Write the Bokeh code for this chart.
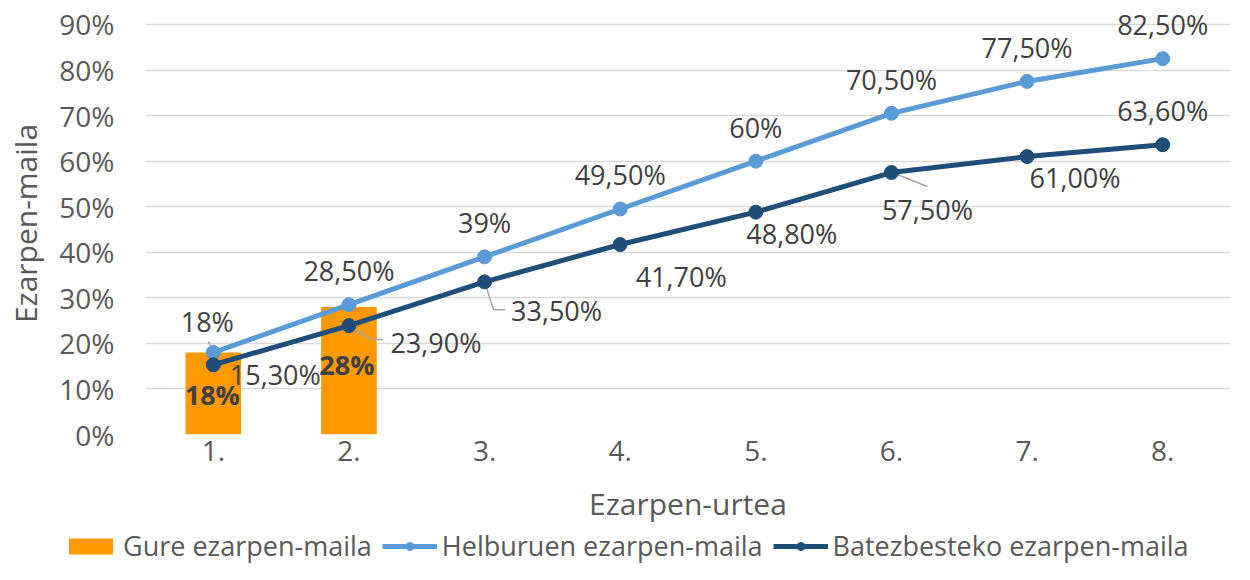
from bokeh.plotting import figure
from bokeh.models import (Range1d, FixedTicker, NumeralTickFormatter, ColumnDataSource,
                          LabelSet, Legend, LegendItem)
from bokeh.core.properties import value
from bokeh.embed import file_html
from bokeh.resources import INLINE

# ---------------- data ----------------
categories = ["1.", "2.", "3.", "4.", "5.", "6.", "7.", "8."]
gure = [0.18, 0.28]                      # Gure ezarpen-maila (bars)
gure_labels = ["18%", "28%"]
helburu = [0.18, 0.285, 0.39, 0.495, 0.60, 0.705, 0.775, 0.825]
helburu_labels = ["18%", "28,50%", "39%", "49,50%", "60%", "70,50%", "77,50%", "82,50%"]
batez = [0.153, 0.239, 0.335, 0.417, 0.488, 0.575, 0.61, 0.636]
batez_labels = ["15,30%", "23,90%", "33,50%", "41,70%", "48,80%", "57,50%", "61,00%", "63,60%"]
y_ticks = [0.0, 0.1, 0.2, 0.3, 0.4, 0.5, 0.6, 0.7, 0.8, 0.9]

series_names = ["Gure ezarpen-maila", "Helburuen ezarpen-maila", "Batezbesteko ezarpen-maila"]

# ---------------- styles ----------------
FONT = "Open Sans"
ORANGE = "#FF9900"
LIGHT = "#5B9BD5"
DARK = "#1F4E79"
LABEL_COLOR = "#404040"
AXIS_COLOR = "#595959"

W = 1234
H_MAIN, H_LEG = 526, 38
BL, BR, BT, BB = 145, 4, 12, H_MAIN - 435
TOP_GAP = 12                 # px of empty frame above the 90% gridline (room for labels)
frame_w = W - BL - BR
grid_h = H_MAIN - BT - BB - TOP_GAP

xs = list(range(1, len(categories) + 1))
x_lo, x_hi = 0.5, len(categories) + 0.5
y_lo, y_top_tick = 0.0, y_ticks[-1]
px_x = (x_hi - x_lo) / frame_w
px_y = (y_top_tick - y_lo) / grid_h
y_hi = y_top_tick + TOP_GAP * px_y

p = figure(width=W, height=H_MAIN, output_backend="svg", toolbar_location=None,
           x_range=Range1d(x_lo, x_hi), y_range=Range1d(y_lo, y_hi),
           min_border_left=BL, min_border_right=BR, min_border_top=BT, min_border_bottom=BB)
p.outline_line_color = None
p.background_fill_color = "white"
p.border_fill_color = "white"

# grid
p.xgrid.grid_line_color = None
p.ygrid.ticker = FixedTicker(ticks=y_ticks)
p.ygrid.grid_line_color = "#D9D9D9"
p.ygrid.grid_line_width = 1.5

# axes
p.xaxis.ticker = FixedTicker(ticks=xs)
p.xaxis.major_label_overrides = {x: c for x, c in zip(xs, categories)}
p.yaxis.ticker = FixedTicker(ticks=y_ticks)
p.yaxis.formatter = NumeralTickFormatter(format="0%")
for ax in (p.xaxis, p.yaxis):
    ax.axis_line_color = None
    ax.major_tick_line_color = None
    ax.minor_tick_line_color = None
    ax.major_tick_out = 0
    ax.major_tick_in = 0
    ax.minor_tick_out = 0
    ax.minor_tick_in = 0
    ax.major_label_text_font = FONT
    ax.major_label_text_font_size = "28px"
    ax.major_label_text_color = AXIS_COLOR
    ax.axis_label_text_font = FONT
    ax.axis_label_text_font_size = "30px"
    ax.axis_label_text_color = AXIS_COLOR
    ax.axis_label_text_font_style = "normal"
p.xaxis.axis_label = "Ezarpen-urtea"
p.yaxis.axis_label = "Ezarpen-maila"
p.xaxis.major_label_standoff = 6
p.xaxis.axis_label_standoff = 19
p.yaxis.major_label_standoff = 31
p.yaxis.axis_label_standoff = 10

# bars
bar_src = ColumnDataSource(dict(x=xs[:len(gure)], top=gure, label=gure_labels,
                                dx=[-1, -2], dy=[-42, -58]))
bar_style = dict(width=0.41, bottom=0, fill_color=ORANGE, line_color=None)
bars = p.vbar(x="x", top="top", source=bar_src, **bar_style)

# leader lines (derived from the point values + pixel offsets)
def leader(xi, yv, pts):
    return ([xi + dx * px_x for dx, dy in pts], [yv - dy * px_y for dx, dy in pts])

leaders = [
    leader(xs[0], helburu[0], [(-5, -11), (0, -1)]),
    leader(xs[1], batez[1], [(1, 1), (24, 14), (34, 14)]),
    leader(xs[2], batez[2], [(0, 0), (9, 28), (21, 28)]),
    leader(xs[5], batez[5], [(1, 0), (36, 14)]),
]
p.multi_line(xs=[l[0] for l in leaders], ys=[l[1] for l in leaders],
             line_color="#A6A6A6", line_width=1.5)

# lines
h_src = ColumnDataSource(dict(x=xs, y=helburu, label=helburu_labels,
                              dx=[-6, 0, 0, 0, 0, 0, 0, 0],
                              dy=[31, 34, 34, 34, 34, 34, 34, 34]))
b_src = ColumnDataSource(dict(x=xs, y=batez, label=batez_labels,
                              dx=[62, 87, 72, 61, 36, 36, 48, 0],
                              dy=[-10, -17, -29, -32, -21, -37, -21, 34]))
p.line("x", "y", source=h_src, line_color=LIGHT, line_width=5)
p.scatter("x", "y", source=h_src, size=14, fill_color=LIGHT, line_color=LIGHT)
p.line("x", "y", source=b_src, line_color=DARK, line_width=5)
p.scatter("x", "y", source=b_src, size=14, fill_color=DARK, line_color=DARK)

# data labels
for src, ycol, bold in ((h_src, "y", False), (b_src, "y", False), (bar_src, "top", True)):
    p.add_layout(LabelSet(x="x", y=ycol, text="label", source=src,
                          x_offset="dx", y_offset="dy",
                          text_align="center", text_baseline="middle",
                          text_font=value(FONT), text_font_size="27px",
                          text_font_style="bold" if bold else "normal",
                          text_color=LABEL_COLOR))

# ---------------- legend strip (separate root, same sources, glyphs out of view) ----------------
q = figure(width=W, height=H_LEG, output_backend="svg", toolbar_location=None,
           x_range=Range1d(1000, 1001), y_range=Range1d(1000, 1001),
           x_axis_location=None, y_axis_location=None,
           min_border_left=0, min_border_right=0, min_border_top=0, min_border_bottom=0)
q.outline_line_color = None
q.xgrid.visible = False
q.ygrid.visible = False
lb = q.vbar(x="x", top="top", source=bar_src, **bar_style)
lh1 = q.line("x", "y", source=h_src, line_color=LIGHT, line_width=5)
lh2 = q.scatter("x", "y", source=h_src, size=14, fill_color=LIGHT, line_color=LIGHT)
ld1 = q.line("x", "y", source=b_src, line_color=DARK, line_width=5)
ld2 = q.scatter("x", "y", source=b_src, size=14, fill_color=DARK, line_color=DARK)
legend = Legend(items=[LegendItem(label=series_names[0], renderers=[lb]),
                       LegendItem(label=series_names[1], renderers=[lh1, lh2]),
                       LegendItem(label=series_names[2], renderers=[ld1, ld2])],
                orientation="horizontal", location=(63, 0),
                label_text_font=FONT, label_text_font_size="27px",
                label_text_color=AXIS_COLOR, glyph_width=55, glyph_height=20,
                label_standoff=5, spacing=10, padding=0, margin=0,
                border_line_color=None, background_fill_alpha=0)
q.add_layout(legend, "center")

open("out.html", "w").write(file_html([p, q], INLINE))
